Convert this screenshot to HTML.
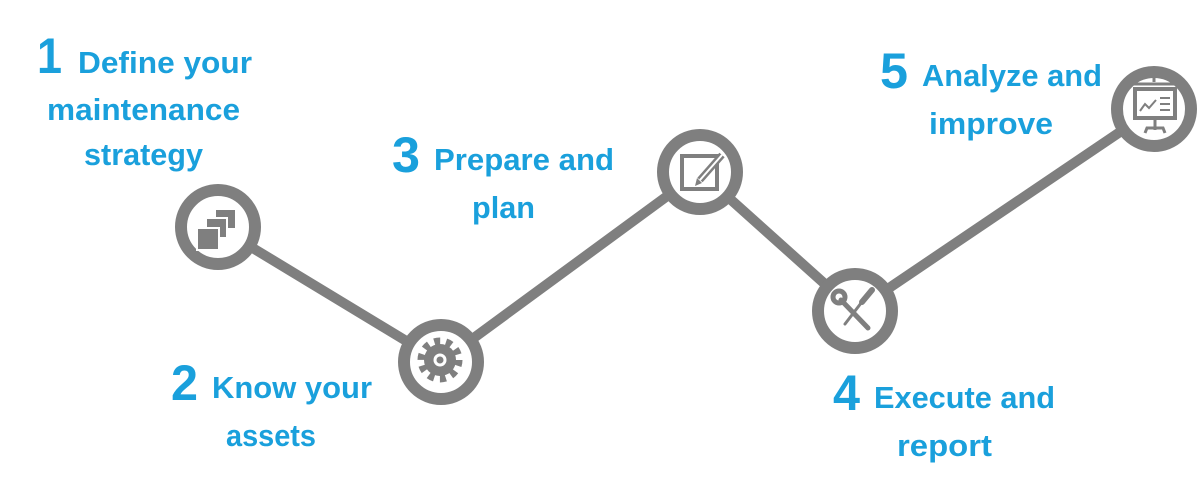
<!DOCTYPE html>
<html><head><meta charset="utf-8"><style>
html,body{margin:0;padding:0;background:#fff;}
svg{display:block;}
text{font-family:"Liberation Sans",sans-serif;font-weight:bold;fill:#1aa0dc;}
</style></head><body>
<svg width="1200" height="490" viewBox="0 0 1200 490">
<polyline points="218,227 441,362 700,172 855,311 1154,109" fill="none" stroke="#7f7f7f" stroke-width="10" stroke-linejoin="round"/>
<g fill="#fff" stroke="#7f7f7f" stroke-width="12">
<circle cx="218" cy="227" r="37"/>
<circle cx="441" cy="362" r="37"/>
<circle cx="700" cy="172" r="37"/>
<circle cx="855" cy="311" r="37"/>
<circle cx="1154" cy="109" r="37"/>
</g>
<!-- icon 1 -->
<g fill="#7f7f7f" stroke="#fff" stroke-width="2">
<rect x="215" y="209" width="21" height="20"/>
<rect x="206" y="218" width="21" height="20"/>
<rect x="197" y="228" width="22" height="22"/>
</g>
<!-- gear -->
<g fill="#7f7f7f">
<circle cx="440" cy="360" r="16"/>
<circle cx="440" cy="360" r="19" fill="none" stroke="#7f7f7f" stroke-width="7" stroke-dasharray="6 5.94"/>
<circle cx="440" cy="360" r="6.5" fill="#fff"/>
<circle cx="440" cy="360" r="3.5"/>
</g>
<!-- edit -->
<g fill="none" stroke="#7f7f7f">
<rect x="682" y="156" width="35" height="33" stroke-width="4"/>
<path d="M722,155 L700,180" stroke-width="7"/>
<path d="M722,155 L700,180" stroke="#fff" stroke-width="2"/>
</g>
<path d="M697,178 L702,183 L695,186 Z" fill="#7f7f7f"/>
<!-- tools -->
<g stroke="#7f7f7f" stroke-linecap="round" fill="none">
<path d="M841,300 L868,328" stroke-width="5"/>
<circle cx="839" cy="297" r="6" stroke-width="5"/>
<path d="M868,294 L845,324" stroke-width="3"/>
<path d="M872,290 L862,302" stroke-width="6"/>
</g>
<!-- board -->
<g fill="none" stroke="#7f7f7f">
<line x1="1134" y1="84" x2="1174" y2="84" stroke-width="3"/>
<rect x="1135" y="89" width="40" height="29" stroke-width="4"/>
<line x1="1155" y1="118" x2="1155" y2="130" stroke-width="3"/>
<path d="M1145,133 L1147,128 L1163,128 L1165,133" stroke-width="3"/>
<path d="M1140,111 L1145,104 L1149,108 L1156,100" stroke-width="2"/>
<path d="M1160,98 H1170 M1160,104 H1170 M1160,110 H1170" stroke-width="2"/>
</g>
<line x1="1154" y1="73" x2="1154" y2="82" stroke="#7f7f7f" stroke-width="3"/>
<!-- labels -->
<text x="37" y="73" font-size="50" textLength="25" lengthAdjust="spacingAndGlyphs">1</text>
<text x="78" y="73" font-size="31" textLength="174" lengthAdjust="spacingAndGlyphs">Define your</text>
<text x="47" y="120" font-size="31" textLength="193" lengthAdjust="spacingAndGlyphs">maintenance</text>
<text x="84" y="165" font-size="31" textLength="119" lengthAdjust="spacingAndGlyphs">strategy</text>

<text x="171" y="400" font-size="50" textLength="27" lengthAdjust="spacingAndGlyphs">2</text>
<text x="212" y="398" font-size="31" textLength="160" lengthAdjust="spacingAndGlyphs">Know your</text>
<text x="226" y="446" font-size="31" textLength="90" lengthAdjust="spacingAndGlyphs">assets</text>

<text x="392" y="172" font-size="50" textLength="28" lengthAdjust="spacingAndGlyphs">3</text>
<text x="434" y="170" font-size="31" textLength="180" lengthAdjust="spacingAndGlyphs">Prepare and</text>
<text x="472" y="218" font-size="31" textLength="63" lengthAdjust="spacingAndGlyphs">plan</text>

<text x="833" y="410" font-size="50" textLength="27" lengthAdjust="spacingAndGlyphs">4</text>
<text x="874" y="408" font-size="31" textLength="181" lengthAdjust="spacingAndGlyphs">Execute and</text>
<text x="897" y="456" font-size="31" textLength="95" lengthAdjust="spacingAndGlyphs">report</text>

<text x="880" y="88" font-size="50" textLength="28" lengthAdjust="spacingAndGlyphs">5</text>
<text x="922" y="86" font-size="31" textLength="180" lengthAdjust="spacingAndGlyphs">Analyze and</text>
<text x="929" y="134" font-size="31" textLength="124" lengthAdjust="spacingAndGlyphs">improve</text>
</svg>
</body></html>
